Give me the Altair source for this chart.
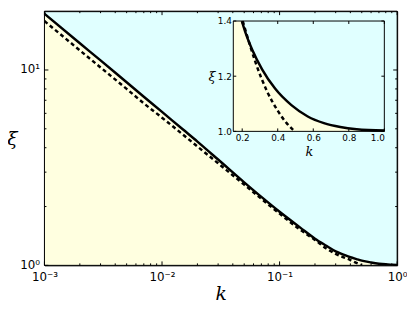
import altair as alt
import pandas as pd

# ---------------- data ----------------
# main panel (log-log)
main_k = [0.001, 0.002, 0.003, 0.005, 0.007, 0.01, 0.015, 0.02, 0.03, 0.05, 0.07,
          0.1, 0.15, 0.2, 0.25, 0.3, 0.35, 0.4, 0.45, 0.5, 0.6, 0.7, 0.8, 0.9, 1.0]
main_solid = [19.4, 13.7, 11.2, 8.65, 7.3, 6.1, 4.97, 4.3, 3.48, 2.66, 2.24,
              1.88, 1.56, 1.37, 1.26, 1.18, 1.135, 1.10, 1.077, 1.058, 1.035, 1.02, 1.012, 1.008, 1.005]
main_dashed_k = [0.001, 0.002, 0.003, 0.005, 0.007, 0.01, 0.015, 0.02, 0.03, 0.05, 0.07,
                 0.1, 0.15, 0.2, 0.25, 0.3, 0.35, 0.4, 0.45, 0.5]
main_dashed = [17.8, 12.6, 10.3, 8.0, 6.75, 5.7, 4.68, 4.06, 3.33, 2.59, 2.19,
               1.84, 1.52, 1.35, 1.22, 1.145, 1.10, 1.065, 1.03, 1.0]

# inset panel (linear)
inset_k = [0.15, 0.198, 0.22, 0.257, 0.312, 0.385, 0.477, 0.569, 0.66, 0.752, 0.844, 1.0]
inset_solid = [1.55, 1.40, 1.355, 1.295, 1.225, 1.155, 1.095, 1.054, 1.03, 1.016, 1.008, 1.003]
inset_dashed_k = [0.203, 0.24, 0.275, 0.34, 0.4, 0.45, 0.495]
inset_dashed = [1.40, 1.32, 1.25, 1.145, 1.075, 1.03, 1.0]

# axis limits and ticks
X_LIM = [0.001, 1.0]
Y_LIM = [1.0, 20.0]
X_MAJOR = [0.001, 0.01, 0.1, 1.0]
X_MINOR = [m * d for d in (0.001, 0.01, 0.1) for m in range(2, 10)]
Y_MAJOR = [1.0, 10.0]
Y_MINOR = [float(m) for m in range(2, 10)]

IN_X_LIM = [0.15, 1.0]
IN_Y_LIM = [1.0, 1.4]
IN_X_TICKS = [0.2, 0.4, 0.6, 0.8, 1.0]
IN_Y_TICKS = [1.0, 1.2, 1.4]

# ---------------- layout / style ----------------
W, H = 358, 258
IN_LEFT, IN_RIGHT, IN_TOP, IN_BOTTOM = 191.7, 345.0, 10.0, 122.0
CYAN = "#E0FFFF"
YELLOW = "#FFFFE0"
FONT = "DejaVu Sans"
SERIF = "DejaVu Serif"

xs_main = alt.Scale(type="log", domain=X_LIM, nice=False)
ys_main = alt.Scale(type="log", domain=Y_LIM, nice=False)
xs_in = alt.Scale(domain=IN_X_LIM, range=[IN_LEFT, IN_RIGHT], nice=False, zero=False)
ys_in = alt.Scale(domain=IN_Y_LIM, range=[IN_BOTTOM, IN_TOP], nice=False, zero=False, clamp=True)


def tick_layers(xscale, yscale, xlim, ylim, xvals, yvals, length):
    xdf = pd.DataFrame({"k": xvals})
    ydf = pd.DataFrame({"xi": yvals})
    out = []
    # bottom & top ticks (inward)
    out.append(alt.Chart(xdf).mark_rule(color="black", strokeWidth=1, y2Offset=-length).encode(
        x=alt.X("k:Q", scale=xscale), y=alt.Y(datum=ylim[0], scale=yscale), y2=alt.datum(ylim[0])))
    out.append(alt.Chart(xdf).mark_rule(color="black", strokeWidth=1, y2Offset=length).encode(
        x=alt.X("k:Q", scale=xscale), y=alt.Y(datum=ylim[1], scale=yscale), y2=alt.datum(ylim[1])))
    # left & right ticks (inward)
    out.append(alt.Chart(ydf).mark_rule(color="black", strokeWidth=1, x2Offset=length).encode(
        y=alt.Y("xi:Q", scale=yscale), x=alt.X(datum=xlim[0], scale=xscale), x2=alt.datum(xlim[0])))
    out.append(alt.Chart(ydf).mark_rule(color="black", strokeWidth=1, x2Offset=-length).encode(
        y=alt.Y("xi:Q", scale=yscale), x=alt.X(datum=xlim[1], scale=xscale), x2=alt.datum(xlim[1])))
    return out


# ---------------- main panel ----------------
main_df = pd.DataFrame({"k": main_k, "xi": main_solid, "base": Y_LIM[0]})
main_dash_df = pd.DataFrame({"k": main_dashed_k, "xi": main_dashed})
main_frame_df = pd.DataFrame({"k": [X_LIM[0]], "k2": [X_LIM[1]], "xi": [Y_LIM[0]], "xi2": [Y_LIM[1]]})

x_main_axis = alt.Axis(
    values=X_MAJOR, grid=False, ticks=False, domain=False,
    labelExpr="datum.value < 0.005 ? '10⁻³' : datum.value < 0.05 ? '10⁻²' : datum.value < 0.5 ? '10⁻¹' : '10⁰'",
    labelFont=FONT, labelFontSize=12, labelColor="black", labelPadding=6, labelFlush=False,
    title="k", titleFont=SERIF, titleFontStyle="italic", titleFontWeight="normal",
    titleFontSize=19, titleColor="black", titlePadding=3,
)
y_main_axis = alt.Axis(
    values=Y_MAJOR, grid=False, ticks=False, domain=False,
    labelExpr="datum.value < 5 ? '10⁰' : '10¹'",
    labelFont=FONT, labelFontSize=12, labelColor="black", labelPadding=5, labelFlush=False,
    labelOffset=-1,
    title="ξ", titleFont=SERIF, titleFontStyle="italic", titleFontWeight="normal",
    titleFontSize=19, titleColor="black", titleAngle=0, titleAlign="center",
    titleBaseline="middle", titleX=-33, titleY=H / 2,
)

main_area = alt.Chart(main_df).mark_area(color=YELLOW, interpolate="monotone", clip=True).encode(
    x=alt.X("k:Q", scale=xs_main, axis=x_main_axis),
    y=alt.Y("xi:Q", scale=ys_main, axis=y_main_axis),
    y2="base:Q",
)
main_solid_line = alt.Chart(main_df).mark_line(color="black", strokeWidth=2.5, interpolate="monotone", clip=True).encode(
    x=alt.X("k:Q", scale=xs_main), y=alt.Y("xi:Q", scale=ys_main))
main_dash_line = alt.Chart(main_dash_df).mark_line(color="black", strokeWidth=2.5, strokeDash=[4, 3],
                                                  interpolate="monotone", clip=True).encode(
    x=alt.X("k:Q", scale=xs_main), y=alt.Y("xi:Q", scale=ys_main))
main_frame = alt.Chart(main_frame_df).mark_rect(fillOpacity=0, stroke="black", strokeWidth=1).encode(
    x=alt.X("k:Q", scale=xs_main), x2="k2:Q", y=alt.Y("xi:Q", scale=ys_main), y2="xi2:Q")

main_layer = alt.layer(
    main_area, main_solid_line, main_dash_line,
    *tick_layers(xs_main, ys_main, X_LIM, Y_LIM, X_MAJOR, Y_MAJOR, 4),
    *tick_layers(xs_main, ys_main, X_LIM, Y_LIM, X_MINOR, Y_MINOR, 2),
    main_frame,
)

# ---------------- inset panel ----------------
inset_df = pd.DataFrame({"k": inset_k, "xi": inset_solid, "base": IN_Y_LIM[0]})
inset_dash_df = pd.DataFrame({"k": inset_dashed_k, "xi": inset_dashed})
inset_box_df = pd.DataFrame({"k": [IN_X_LIM[0]], "k2": [IN_X_LIM[1]], "xi": [IN_Y_LIM[0]], "xi2": [IN_Y_LIM[1]]})

x_in_axis = alt.Axis(
    orient="bottom", offset=-(H - IN_BOTTOM), values=IN_X_TICKS, format=".1f",
    grid=False, ticks=False, domain=False, zindex=2,
    labelFont=FONT, labelFontSize=9, labelColor="black", labelPadding=2,
    title="k", titleFont=SERIF, titleFontStyle="italic", titleFontWeight="normal",
    titleFontSize=13, titleColor="black", titlePadding=3,
)
y_in_axis = alt.Axis(
    orient="left", offset=-IN_LEFT, values=IN_Y_TICKS, format=".1f",
    grid=False, ticks=False, domain=False, zindex=2,
    labelFont=FONT, labelFontSize=9, labelColor="black", labelPadding=2,
    title="ξ", titleFont=SERIF, titleFontStyle="italic", titleFontWeight="normal",
    titleFontSize=13, titleColor="black", titleAngle=0, titleAlign="center",
    titleBaseline="middle", titleX=-22, titleY=(IN_TOP + IN_BOTTOM) / 2,
)

inset_bg = alt.Chart(inset_box_df).mark_rect(fill=CYAN, strokeWidth=0).encode(
    x=alt.X("k:Q", scale=xs_in, axis=x_in_axis), x2="k2:Q",
    y=alt.Y("xi:Q", scale=ys_in, axis=y_in_axis), y2="xi2:Q")
inset_area = alt.Chart(inset_df).mark_area(color=YELLOW, interpolate="monotone").encode(
    x=alt.X("k:Q", scale=xs_in), y=alt.Y("xi:Q", scale=ys_in), y2="base:Q")
inset_solid_line = alt.Chart(inset_df).transform_filter(alt.datum.xi <= IN_Y_LIM[1]).mark_line(
    color="black", strokeWidth=2.5, interpolate="monotone").encode(
    x=alt.X("k:Q", scale=xs_in), y=alt.Y("xi:Q", scale=ys_in))
inset_dash_line = alt.Chart(inset_dash_df).mark_line(
    color="black", strokeWidth=2.5, strokeDash=[4, 3], interpolate="monotone").encode(
    x=alt.X("k:Q", scale=xs_in), y=alt.Y("xi:Q", scale=ys_in))
inset_frame = alt.Chart(inset_box_df).mark_rect(fillOpacity=0, stroke="black", strokeWidth=1).encode(
    x=alt.X("k:Q", scale=xs_in), x2="k2:Q", y=alt.Y("xi:Q", scale=ys_in), y2="xi2:Q")

inset_layer = alt.layer(
    inset_bg, inset_area, inset_solid_line, inset_dash_line,
    *tick_layers(xs_in, ys_in, IN_X_LIM, IN_Y_LIM, IN_X_TICKS, IN_Y_TICKS, 3),
    inset_frame,
)

chart = (
    alt.layer(main_layer, inset_layer)
    .resolve_scale(x="independent", y="independent")
    .properties(
        width=W, height=H,
        autosize=alt.AutoSizeParams(type="none"),
        padding={"left": 37, "top": 1, "right": 10, "bottom": 37},
    )
    .configure_view(fill=CYAN, stroke="black")
)

chart.save("out.html", embed_options={"renderer": "svg", "actions": False})
